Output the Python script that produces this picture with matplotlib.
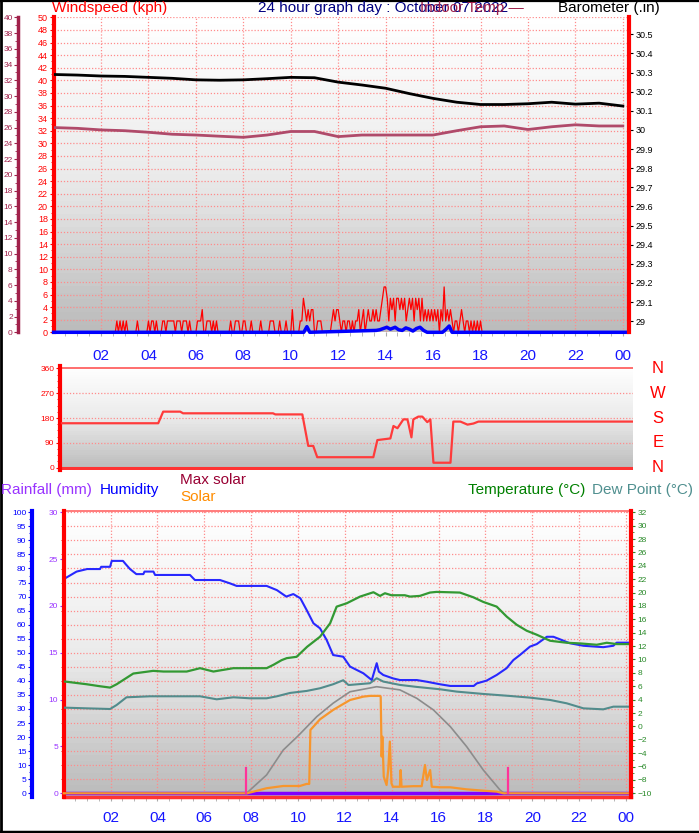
import numpy as np
import matplotlib
matplotlib.use("Agg")
import matplotlib.pyplot as plt
from matplotlib.colors import LinearSegmentedColormap
from matplotlib.lines import Line2D

plt.rcParams['font.family'] = ['Liberation Sans', 'DejaVu Sans']

W, H = 699, 833

# ---- data ----
hour_ticks = list(range(2, 25, 2))
hour_labels = ['02', '04', '06', '08', '10', '12', '14', '16', '18', '20', '22', '00']

# wind gusts, 4-minute slots, code * 1.8 kph (0.5 m/s steps)
gust_codes = [
    "000000000000000", "000000000000000", "000000000010101", "010000001000000",
    "101101000110111", "110111011101000", "011120011101010", "000000010011100",
    "110001000001000", "001110001000100", "020000113212122", "001110000001212",
    "210110110101120", "120121121211234", "431323133232312", "323132313121212",
    "121202141212101", "101210110101010", "100000000000000", "000000000000000",
    "000000000000000", "000000000000000", "000000000000000", "000000000000000",
]
avg_t = [0, 10.55, 10.68, 10.8, 13.6, 13.75, 13.9, 14.05, 14.2, 14.4, 14.55, 14.7,
         14.85, 15.0, 15.15, 15.3, 15.45, 15.6, 15.75, 16.4, 16.55, 16.68, 16.8, 24.2]
avg_wind = [0, 0, 0.9, 0, 0.3, 0.4, 0.6, 0.8, 0.5, 0.8, 0.4, 0.3,
            0.7, 0.5, 0.2, 0.6, 0.8, 0.3, 0, 0, 0.5, 1.0, 0, 0]

hours = list(range(25))
baro = [30.29, 30.287, 30.282, 30.28, 30.275, 30.27, 30.262, 30.26, 30.262, 30.268,
        30.275, 30.273, 30.25, 30.235, 30.218, 30.19, 30.165, 30.145, 30.133, 30.133,
        30.137, 30.145, 30.135, 30.14, 30.125]
indoor = [26.0, 25.9, 25.7, 25.6, 25.4, 25.15, 25.05, 24.9, 24.76, 25.05, 25.5, 25.5,
          24.85, 25.05, 25.05, 25.05, 25.05, 25.6, 26.1, 26.2, 25.75, 26.1, 26.35, 26.2, 26.2]

dir_t = [0.08, 4.15, 4.36, 5.08, 5.2, 9.0, 9.1, 10.24, 10.49, 10.7, 10.87, 13.24, 13.41,
         13.96, 14.09, 14.26, 14.51, 14.68, 14.72, 14.85, 14.93, 15.14, 15.31, 15.52,
         15.65, 15.78, 16.5, 16.62, 16.92, 17.22, 17.47, 17.68, 24.2]
dir_deg = [161, 161, 203, 203, 197, 197, 193, 193, 79, 79, 38, 38, 100, 106, 151, 143,
           175, 175, 161, 110, 175, 185, 185, 165, 175, 18, 18, 167, 167, 156, 160, 167, 167]
compass = ['N', 'E', 'S', 'W', 'N']
compass_deg = [0, 90, 180, 270, 360]

hum_t = [0.1, 0.55, 1.0, 1.55, 1.6, 1.98, 2.05, 2.53, 2.65, 2.83, 3.1, 3.4, 3.45, 3.83,
         3.9, 5.39, 5.6, 6.67, 7.1, 7.38, 8.66, 9.1, 9.5, 9.8, 10.1, 10.37, 10.66, 10.94,
         11.22, 11.5, 11.93, 12.22, 12.79, 13.15, 13.36, 13.45, 13.64, 14.05, 14.35, 15.07,
         15.5, 16.06, 16.5, 17.5, 17.63, 18.05, 18.48, 18.9, 19.19, 19.47, 19.9, 20.19,
         20.62, 20.9, 21.18, 21.6, 22.18, 23.03, 23.46, 23.6, 24.1]
hum = [76.7, 78.9, 79.8, 79.8, 80.6, 80.6, 82.7, 82.7, 81.5, 79.8, 78.0, 78.0, 78.9, 78.9,
       77.7, 77.7, 75.9, 75.9, 74.7, 73.8, 73.8, 72.3, 70.0, 70.9, 69.4, 65.2, 60.5, 58.7,
       54.6, 49.2, 48.6, 45.1, 42.7, 40.3, 46.3, 43.3, 42.1, 40.9, 40.3, 40.3,
       39.7, 38.8, 38.2, 38.2, 39.1, 40.1, 42.1, 44.5, 47.4, 49.2, 52.2, 53.1,
       55.7, 55.7, 54.8, 53.4, 52.5, 52.0, 52.5, 53.6, 53.6]

temp_t = [0.06, 0.98, 1.55, 1.98, 2.26, 2.97, 3.82, 4.26, 5.25, 5.82, 6.39, 7.24, 8.66,
          8.95, 9.3, 9.52, 9.94, 10.39, 10.94, 11.37, 11.65, 12.08, 12.65, 13.22, 13.5,
          13.71, 13.99, 14.56, 14.78, 15.2, 15.63, 15.91, 16.91, 17.48, 17.91, 18.48,
          18.91, 19.33, 19.76, 20.19, 20.76, 21.47, 22.04, 22.75, 23.18, 23.6, 24.1]
temp = [6.7, 6.3, 6.0, 5.8, 6.3, 7.9, 8.3, 8.2, 8.2, 8.7, 8.2, 8.7, 8.7,
        9.2, 9.9, 10.2, 10.4, 11.9, 13.4, 15.4, 17.9, 18.4, 19.4, 20.05, 19.5,
        19.9, 19.6, 19.6, 19.4, 19.5, 20.0, 20.1, 20.0, 19.3, 18.6, 17.9,
        16.4, 15.2, 14.3, 13.7, 12.8, 12.5, 12.4, 12.2, 12.5, 12.3, 12.3]

dew_t = [0.06, 0.98, 1.98, 2.26, 2.68, 3.68, 5.82, 6.53, 7.24, 7.95, 8.66, 9.1, 9.66,
         10.37, 10.94, 11.5, 11.93, 12.15, 12.22, 13.07, 13.36, 13.64, 14.35, 15.07,
         16.06, 16.77, 17.91, 19.05, 19.9, 20.76, 21.47, 22.18, 23.03, 23.46, 24.1]
dew = [2.8, 2.7, 2.6, 3.2, 4.35, 4.5, 4.5, 4.05, 4.35, 4.2, 4.2, 4.5, 5.0,
       5.3, 5.7, 6.3, 6.9, 6.2, 6.2, 6.45, 7.2, 6.7, 6.2, 5.9,
       5.55, 5.2, 4.85, 4.55, 4.3, 3.95, 3.45, 2.7, 2.55, 2.95, 2.95]

maxsol_t = [7.8, 8.66, 9.37, 10.0, 10.8, 11.5, 12.22, 13.36, 14.35, 15.07, 15.78, 16.5,
            17.2, 17.91, 18.62, 18.8]
maxsol = [0, 98, 231, 306, 409, 481, 542, 569, 552, 507, 445, 356, 249, 124, 18, 0]

sol_t = [0, 7.83, 8.66, 9.37, 10.08, 10.37, 10.48, 10.53, 10.94, 11.5, 12.22, 12.79,
         13.07, 13.5, 13.53, 13.57, 13.6, 13.66, 13.78, 13.85, 13.92, 13.99, 14.05,
         14.35, 14.38, 14.42, 14.92, 15.28, 15.42, 15.5, 15.64, 15.71, 16.06, 16.5,
         17.2, 17.91, 18.48, 18.76, 24.2]
sol = [0, 0, 27, 39, 39, 50, 50, 338, 395, 445, 498, 516,
       520, 520, 515, 196, 302, 89, 44, 124, 276, 53, 35,
       35, 124, 35, 38, 38, 151, 71, 124, 35, 32, 32,
       21, 14, 9, 0, 0]

rain_t = [0, 24.2]
rain = [0, 0]
sun_t = [7.78, 18.95]

gust_t, gust = [], []
for h, row in enumerate(gust_codes):
    for i, c in enumerate(row):
        gust_t.append(h + i / 15)
        gust.append(int(c) * 1.8)
gust_t.append(24.2)
gust.append(0)

# ---- helpers ----
bg = LinearSegmentedColormap.from_list('bg', ['#ffffff', '#ebebeb', '#bcbcbc'])
GRID = '#ff8c8c'


def box(l, t, r, b):
    return [l / W, 1 - b / H, (r - l) / W, (b - t) / H]


def shade(ax):
    ax.imshow(np.linspace(0, 1, 48).reshape(-1, 1), cmap=bg, extent=(0, 1, 0, 1),
              transform=ax.transAxes, aspect='auto', zorder=0, interpolation='nearest')


def spines_only(ax, keep):
    for k, s in ax.spines.items():
        s.set_visible(k in keep)


def ftext(x, y, s, color, size=11):
    fig.text(x / W, 1 - y / H, s, color=color, fontsize=size, ha='left', va='center')


fig = plt.figure(figsize=(6.99, 8.33), dpi=100)

# ---- top panel: wind / barometer / indoor temp ----
ax1 = fig.add_axes(box(53.6, 17.3, 628.5, 332.3))
shade(ax1)
ax1.plot(gust_t, gust, color='red', lw=0.9, zorder=3)
ax1.plot(avg_t, avg_wind, color='blue', lw=2.5, zorder=4, clip_on=False)
ax1.set_xlim(0, 24.24)
ax1.set_ylim(0, 50)
ax1.set_yticks(np.arange(0, 51, 2))
ax1.set_yticks(np.arange(1, 50, 2), minor=True)
ax1.set_xticks(hour_ticks, hour_labels)
ax1.set_xticks(np.arange(0.5, 24.2, 0.5), minor=True)
ax1.grid(True, which='major', color=GRID, ls=(0, (1, 1.5)), lw=0.9)
ax1.tick_params(axis='y', which='both', colors='red', labelsize=6.5, length=3, pad=1)
ax1.tick_params(axis='y', which='minor', length=2)
ax1.tick_params(axis='x', which='both', color='#aaaaaa', length=3, labelsize=11,
                labelcolor='#1515ff', pad=9)
spines_only(ax1, ['left'])
ax1.spines['left'].set_color('red')
ax1.spines['left'].set_linewidth(3)

ax1b = ax1.twinx()
ax1b.plot(hours, baro, color='black', lw=2)
ax1b.set_ylim(28.942, 30.589)
bt = np.round(np.arange(29.0, 30.55, 0.1), 1)
ax1b.set_yticks(bt, [f'{v:g}' for v in bt])
ax1b.tick_params(axis='y', colors='black', labelsize=6.5, length=3, pad=2)
spines_only(ax1b, ['right'])
ax1b.spines['right'].set_color('red')
ax1b.spines['right'].set_linewidth(3)

ax1i = ax1.twinx()
ax1i.plot(hours, indoor, color='#b04a6a', lw=2)
ax1i.set_ylim(0, 40)
ax1i.yaxis.set_ticks_position('left')
ax1i.set_yticks(np.arange(0, 41, 2))
ax1i.set_yticks(np.arange(1, 40, 2), minor=True)
ax1i.tick_params(axis='y', which='both', colors='#a0204a', labelsize=6, length=3, pad=1)
ax1i.tick_params(axis='y', which='minor', length=2)
spines_only(ax1i, ['left'])
ax1i.spines['left'].set_position(('axes', (18.3 - 53.6) / 574.9))
ax1i.spines['left'].set_color('#a0204a')
ax1i.spines['left'].set_linewidth(2.5)

# ---- middle panel: wind direction ----
ax2 = fig.add_axes(box(60, 366, 632.7, 470))
shade(ax2)
ax2.plot(dir_t, dir_deg, color='#ff3b3b', lw=1.6, zorder=3)
ax2.set_xlim(0, 24.2)
ax2.set_ylim(-8.3, 368.3)
for d in [90, 180, 270]:
    ax2.axhline(d, color=GRID, ls=(0, (1, 1.5)), lw=0.9, zorder=1)
ax2.axhline(0, color='#ff3333', lw=2.2, zorder=2)
ax2.axhline(360, color='#ff5555', lw=1.2, zorder=2)
ax2.set_xticks([])
ax2.set_yticks(compass_deg)
ax2.set_yticks(np.arange(22.5, 360, 22.5), minor=True)
ax2.tick_params(axis='y', which='both', colors='red', labelsize=6, length=3, pad=1)
ax2.tick_params(axis='y', which='minor', length=2)
spines_only(ax2, ['left'])
ax2.spines['left'].set_color('red')
ax2.spines['left'].set_linewidth(3)
for d, s in zip(compass_deg, compass):
    ax2.text(1.044, d, s, transform=ax2.get_yaxis_transform(), color='red',
             fontsize=12, ha='center', va='center')

# ---- bottom panel: humidity / rain / solar / temperature ----
ax3 = fig.add_axes(box(63.7, 511, 630.7, 797))
shade(ax3)
ax3.plot(hum_t, hum, color='#2828ff', lw=1.5, zorder=3)
ax3.set_xlim(0, 24.2)
ax3.set_ylim(-1.32, 100.46)
ax3.set_yticks(np.arange(0, 101, 5))
ax3.set_yticks(np.arange(2.5, 100, 5), minor=True)
ax3.set_xticks(hour_ticks, hour_labels)
ax3.set_xticks(np.arange(0.5, 24.2, 0.5), minor=True)
ax3.grid(True, which='major', color=GRID, ls=(0, (1, 1.5)), lw=0.9)
ax3.tick_params(axis='y', which='both', colors='#0000ff', labelsize=6, length=3, pad=1)
ax3.tick_params(axis='y', which='minor', length=2)
ax3.tick_params(axis='x', which='both', color='#aaaaaa', length=3, labelsize=11,
                labelcolor='#1515ff', pad=7)
spines_only(ax3, ['left', 'bottom', 'top'])
ax3.spines['left'].set_position(('axes', (32 - 63.7) / 567))
ax3.spines['left'].set_color('#0000ff')
ax3.spines['left'].set_linewidth(3)
ax3.spines['bottom'].set_color('#ff3333')
ax3.spines['bottom'].set_linewidth(2.5)
ax3.spines['top'].set_color('#ff6666')
ax3.spines['top'].set_linewidth(1.2)

ax3r = ax3.twinx()
ax3r.plot(rain_t, rain, color='#8000ff', lw=2.5, clip_on=False)
ax3r.set_ylim(-0.395, 30.14)
ax3r.yaxis.set_ticks_position('left')
ax3r.set_yticks(np.arange(0, 31, 5))
ax3r.set_yticks(np.arange(1.5, 30, 1.5), minor=True)
ax3r.tick_params(axis='y', which='major', colors='#9933ff', labelsize=6, length=3, pad=1)
ax3r.tick_params(axis='y', which='minor', color='red', length=2)
spines_only(ax3r, ['left'])
ax3r.spines['left'].set_color('red')
ax3r.spines['left'].set_linewidth(3)

ax3s = ax3.twinx()
ax3s.plot(maxsol_t, maxsol, color='#8c8c8c', lw=1.2)
ax3s.plot(sol_t, sol, color='#f7962d', lw=1.6, clip_on=False)
for t in sun_t:
    ax3s.axvline(t, ymin=0.013, ymax=0.1, color='#ff3399', lw=1.6)
ax3s.set_ylim(-19.8, 1506.9)
ax3s.axis('off')

ax3t = ax3.twinx()
ax3t.plot(dew_t, dew, color='#528c8c', lw=1.5)
ax3t.plot(temp_t, temp, color='#339933', lw=1.6)
ax3t.set_ylim(-10.55, 32.19)
ax3t.set_yticks(np.arange(-10, 33, 2))
ax3t.set_yticks(np.arange(-9, 32, 1), minor=True)
ax3t.tick_params(axis='y', which='both', colors='#2a8a2a', labelsize=6, length=3, pad=2)
ax3t.tick_params(axis='y', which='minor', length=2)
spines_only(ax3t, ['right'])
ax3t.spines['right'].set_color('red')
ax3t.spines['right'].set_linewidth(3)

# ---- titles / legends ----
ftext(52, 8, 'Windspeed (kph)', 'red')
ftext(258, 8, '24 hour graph day : October 07 2022', '#000080')
ftext(420, 8, 'Indoor Temp —', '#a0204a')
ftext(558, 8, 'Barometer (.in)', 'black')
ftext(1, 490, 'Rainfall (mm)', '#9933ff')
ftext(100, 490, 'Humidity', '#0000ff')
ftext(180, 480, 'Max solar', '#990033')
ftext(180, 497, 'Solar', '#ff8c00')
ftext(468, 490, 'Temperature (°C)', '#008000')
ftext(592, 490, 'Dew Point (°C)', '#4f8f8f')

# outer frame
fig.add_artist(Line2D([0, 1], [1 - 0.8 / H, 1 - 0.8 / H], transform=fig.transFigure, color='black', lw=1.6))
fig.add_artist(Line2D([1.2 / W, 1.2 / W], [0, 1], transform=fig.transFigure, color='black', lw=2))
fig.add_artist(Line2D([0, 1], [1 - 831.5 / H, 1 - 831.5 / H], transform=fig.transFigure, color='black', lw=2.5))

fig.savefig('out.png', dpi=100)
